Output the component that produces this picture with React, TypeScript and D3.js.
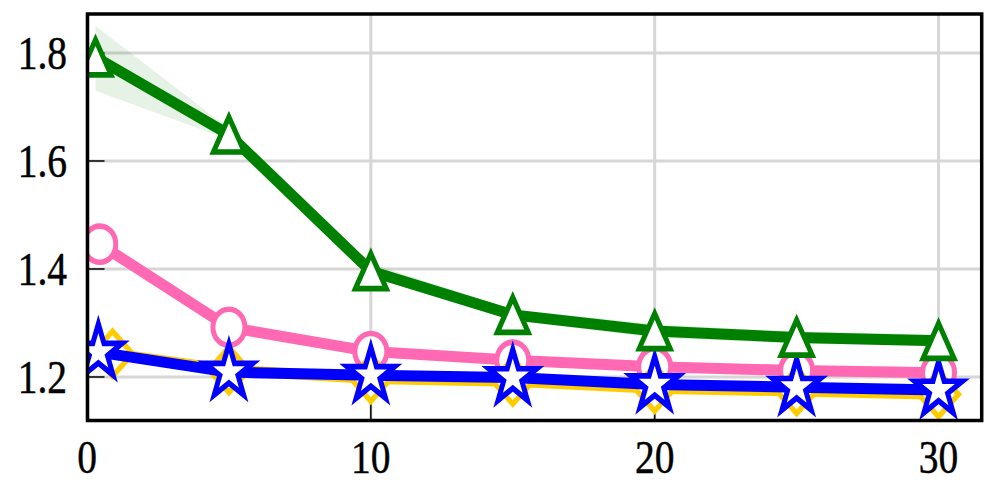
import React from "react";
import * as d3 from "d3";

const xTicks = [0, 10, 20, 30];
const yTicks = [1.2, 1.4, 1.6, 1.8];
const xGreen = [0.3, 5, 10, 15, 20, 25, 30];
const xPink = [0.45, 5, 10, 15, 20, 25, 30];
const xGold = [0.9, 5, 10, 15, 20, 25, 30];
const xBlue = [0.4, 5, 10, 15, 20, 25, 30];
const greenVals = [1.792, 1.649, 1.396, 1.315, 1.285, 1.273, 1.267];
const greenLow = [1.73, 1.64, 1.385, 1.305, 1.272, 1.262, 1.257];
const greenHigh = [1.85, 1.66, 1.41, 1.325, 1.298, 1.284, 1.279];
const pinkVals = [1.446, 1.292, 1.247, 1.231, 1.219, 1.212, 1.208];
const goldVals = [1.243, 1.213, 1.197, 1.192, 1.179, 1.174, 1.168];
const blueVals = [1.246, 1.209, 1.203, 1.199, 1.186, 1.181, 1.176];

const W = 996, H = 498;
const L = 87.5, R = 981.7, T = 14, B = 420.5;
const SY = 1.13; // vertical stretch of marks
const TY = 1.2; // vertical stretch of text

const x = d3.scaleLinear().domain([0, 31.52]).range([87, R]);
const y = d3.scaleLinear().domain([1.1194, 1.8722]).range([B, T]);

function starPath(r: number) {
  const pts: [number, number][] = [];
  const ri = r * 0.381966;
  for (let i = 0; i < 10; i++) {
    const a = -Math.PI / 2 + (i * Math.PI) / 5;
    const rr = i % 2 === 0 ? r : ri;
    pts.push([rr * Math.cos(a), rr * Math.sin(a)]);
  }
  return "M" + pts.map((p) => p.join(",")).join("L") + "Z";
}
function triPath(s: number) {
  return `M0,${-s}L${-s},${s}L${s},${s}Z`;
}
function diamondPath(s: number) {
  return `M0,${-s}L${s},0L0,${s}L${-s},0Z`;
}

export default function App() {
  const line = (xs: number[], vs: number[]) =>
    d3.line<number>().x((_, i) => x(xs[i])).y((v) => y(v))(vs) || "";
  const area =
    d3
      .area<number>()
      .x((_, i) => x(xGreen[i]))
      .y0((_, i) => y(greenLow[i]))
      .y1((_, i) => y(greenHigh[i]))(greenVals) || "";

  const series = [
    { xs: xPink, vs: pinkVals, color: "#ff69b4", shape: "circle" },
    { xs: xGold, vs: goldVals, color: "#ffcc00", shape: "diamond" },
    { xs: xBlue, vs: blueVals, color: "#0000ff", shape: "star" },
    { xs: xGreen, vs: greenVals, color: "#008000", shape: "tri" },
  ];

  const marker = (shape: string, color: string, cx: number, cy: number, k: number) => {
    const d =
      shape === "star"
        ? starPath(25)
        : shape === "tri"
        ? triPath(15.5)
        : shape === "diamond"
        ? diamondPath(20)
        : "";
    return (
      <g key={k} transform={`translate(${cx},${cy}) scale(1,${SY})`}>
        {shape === "circle" ? (
          <circle r={16} fill="#fff" stroke={color} strokeWidth={5} />
        ) : (
          <path d={d} fill="#fff" stroke={color} strokeWidth={5} strokeLinejoin="miter" />
        )}
      </g>
    );
  };

  const font = "'Liberation Serif', 'Times New Roman', serif";

  return (
    <svg width={W} height={H} style={{ position: "absolute", left: 0, top: 0, background: "#fff" }}>
      <defs>
        <clipPath id="plot">
          <rect x={L} y={T} width={R - L} height={B - T} />
        </clipPath>
      </defs>
      <g>
        {xTicks.map((t) => (
          <line key={"gx" + t} x1={x(t)} x2={x(t)} y1={T} y2={B} stroke="#d6d6d6" strokeWidth={3} />
        ))}
        {yTicks.map((t) => (
          <line key={"gy" + t} x1={L} x2={R} y1={y(t)} y2={y(t)} stroke="#d6d6d6" strokeWidth={3} />
        ))}
      </g>
      <g>
        {xTicks.map((t) => (
          <line key={"tx" + t} x1={x(t)} x2={x(t)} y1={B} y2={B - 17} stroke="#000" strokeWidth={1.5} />
        ))}
        {yTicks.map((t) => (
          <line key={"ty" + t} x1={L} x2={L + 17} y1={y(t)} y2={y(t)} stroke="#000" strokeWidth={1.5} />
        ))}
      </g>
      <g clipPath="url(#plot)">
        <path d={area} fill="#008000" fillOpacity={0.1} stroke="none" />
        {series.map((s, si) => (
          <g key={si}>
            <path d={line(s.xs, s.vs)} fill="none" stroke={s.color} strokeWidth={11} strokeLinejoin="round" />
            {s.vs.map((v, i) => marker(s.shape, s.color, x(s.xs[i]), y(v), i))}
          </g>
        ))}
      </g>
      <rect x={L} y={T} width={R - L} height={B - T} fill="none" stroke="#000" strokeWidth={3.5} />
      <g fontFamily={font} fontSize={39.5} fill="#000" stroke="#000" strokeWidth={0.4}>
        {xTicks.map((t) => (
          <text key={"lx" + t} transform={`translate(${x(t)},473) scale(1,${TY})`} textAnchor="middle">
            {t}
          </text>
        ))}
        {yTicks.map((t) => (
          <text key={"ly" + t} transform={`translate(67,${y(t) + 16}) scale(1,${TY})`} textAnchor="end">
            {t.toFixed(1)}
          </text>
        ))}
      </g>
    </svg>
  );
}
